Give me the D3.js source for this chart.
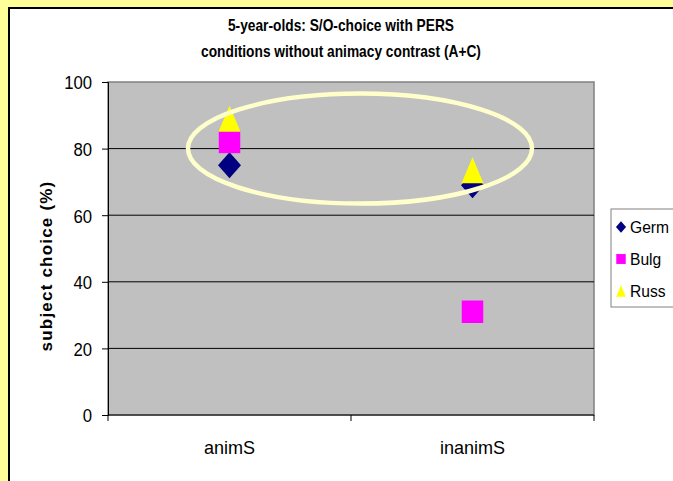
<!DOCTYPE html>
<html>
<head>
<meta charset="utf-8">
<script src="https://cdn.jsdelivr.net/npm/d3@7"></script>
<style>
  html, body { margin: 0; padding: 0; background: #FFFF99; }
  svg { display: block; font-family: "Liberation Sans", Arial, sans-serif; }
</style>
</head>
<body>
<svg id="chart" width="673" height="481"></svg>
<script>
// Categories, series and axis ticks
const categories = ["animS", "inanimS"];
const seriesNames = ["Germ", "Bulg", "Russ"];
const germValues = [75, 69];
const bulgValues = [82, 31];
const russValues = [89, 73.5];
const yTicks = [0, 20, 40, 60, 80, 100];
const titleLines = ["5-year-olds: S/O-choice with PERS", "conditions without animacy contrast (A+C)"];
const yLabel = "subject choice (%)";

const series = [
  { name: seriesNames[0], values: germValues, color: "#000080", shape: "diamond" },
  { name: seriesNames[1], values: bulgValues, color: "#FF00FF", shape: "square" },
  { name: seriesNames[2], values: russValues, color: "#FFFF00", shape: "triangle" }
];

const svg = d3.select("#chart");

// Condensed text: horizontally squeezed glyphs
function narrowText(parent, x, y, str, size, sx, opts = {}) {
  const t = parent.append("text")
    .attr("transform", `translate(${x},${y}) scale(${sx},1)`)
    .attr("font-size", size).attr("fill", "#000")
    .attr("text-anchor", opts.anchor || "start")
    .text(str);
  if (opts.bold) t.attr("font-weight", "bold");
  if (opts.dy) t.attr("dy", opts.dy);
  return t;
}

// Chart area (white, black frame running off the right/bottom edges)
svg.append("rect")
  .attr("x", 9).attr("y", 8).attr("width", 700).attr("height", 500)
  .attr("fill", "#fff").attr("stroke", "#000").attr("stroke-width", 2);

const plot = { left: 108, top: 82, right: 594, bottom: 415 };

const x = d3.scaleBand().domain(categories).range([plot.left, plot.right]);
const y = d3.scaleLinear().domain([0, 100]).range([plot.bottom, plot.top]);

// Plot background
svg.append("rect")
  .attr("x", plot.left).attr("y", plot.top)
  .attr("width", plot.right - plot.left).attr("height", plot.bottom - plot.top)
  .attr("fill", "#C0C0C0").attr("stroke", "#808080").attr("stroke-width", 1.5);

// Gridlines
svg.append("g").selectAll("line")
  .data(yTicks.filter(t => t > 0 && t < 100))
  .join("line")
  .attr("x1", plot.left).attr("x2", plot.right)
  .attr("y1", d => y(d)).attr("y2", d => y(d))
  .attr("stroke", "#000").attr("stroke-width", 1);

// Y axis: d3 axis for line and ticks, condensed labels
const yAxis = svg.append("g")
  .attr("transform", `translate(${plot.left},0)`)
  .call(d3.axisLeft(y).tickValues(yTicks).tickSize(6).tickFormat(""));
yAxis.select(".domain").attr("stroke", "#000");
yAxis.selectAll(".tick").each(function (d) {
  narrowText(d3.select(this), -16, 0, d3.format("d")(d), 19, 0.88, { anchor: "end", dy: "0.36em" });
});

// X axis with category boundary ticks
const xAxisG = svg.append("g").attr("transform", `translate(0,${plot.bottom})`);
xAxisG.append("line").attr("x1", plot.left).attr("x2", plot.right)
  .attr("stroke", "#000");
const bounds = [plot.left, ...categories.map(c => x(c) + x.bandwidth())];
xAxisG.selectAll(".bt").data(bounds).join("line")
  .attr("x1", d => d).attr("x2", d => d).attr("y1", 0).attr("y2", 6)
  .attr("stroke", "#000");
categories.forEach(c => {
  narrowText(xAxisG, x(c) + x.bandwidth() / 2, 39, c, 19, 0.95, { anchor: "middle" });
});

// Markers
function markerPath(shape, size) {
  if (shape === "diamond") {
    const w = size * 0.46, h = size * 0.52;
    return `M0,${-h}L${w},0L0,${h}L${-w},0Z`;
  }
  if (shape === "square") {
    const w = size * 0.43, h = size * 0.45;
    return `M${-w},${-h}H${w}V${h}H${-w}Z`;
  }
  const w = size * 0.44, h = size * 0.52;
  return `M0,${-h}L${w},${h}L${-w},${h}Z`;
}
series.forEach(s => {
  svg.append("g").selectAll("path")
    .data(s.values.map((v, i) => ({ cat: categories[i], v })))
    .join("path")
    .attr("transform", d => `translate(${x(d.cat) + x.bandwidth() / 2},${y(d.v)})`)
    .attr("d", markerPath(s.shape, 25))
    .attr("fill", s.color);
});

// Highlight ellipse around the upper cluster
svg.append("ellipse")
  .attr("cx", (plot.left + plot.right) / 2 + 9).attr("cy", y(80))
  .attr("rx", 172).attr("ry", 55)
  .attr("fill", "none").attr("stroke", "#FFFFCC").attr("stroke-width", 4.5);

// Title
titleLines.forEach((line, i) => {
  narrowText(svg, 341, 31 + i * 26, line, 16, 0.86, { anchor: "middle", bold: true });
});

// Y axis label
svg.append("text")
  .attr("transform", `translate(52,266) rotate(-90)`)
  .attr("text-anchor", "middle").attr("font-size", 17).attr("font-weight", "bold")
  .attr("letter-spacing", 1.2)
  .text(yLabel);

// Legend
const legend = svg.append("g").attr("transform", "translate(611,209)");
legend.append("rect").attr("x", 0).attr("y", 0).attr("width", 80).attr("height", 98)
  .attr("fill", "#fff").attr("stroke", "#808080").attr("stroke-width", 1);
series.forEach((s, i) => {
  const cy = 18 + i * 32;
  legend.append("path")
    .attr("transform", `translate(10,${cy})`)
    .attr("d", markerPath(s.shape, 11))
    .attr("fill", s.color);
  narrowText(legend, 19, cy + 6, s.name, 17, 0.92);
});
</script>
</body>
</html>
